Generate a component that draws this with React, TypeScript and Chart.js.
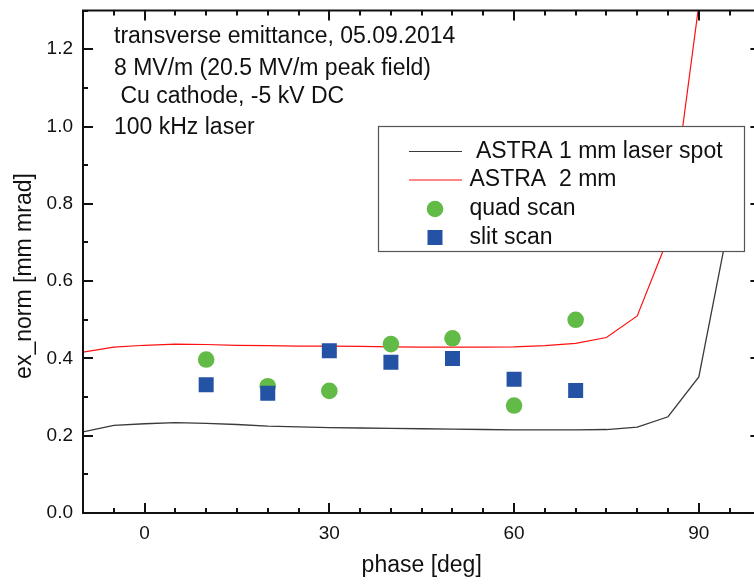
import React, { useEffect, useRef } from 'react';
import { Chart, registerables } from 'chart.js';

Chart.register(...registerables);

// ---- data ----
const phases = [-10, -5, 0, 5, 10, 15, 20, 25, 30, 35, 40, 45, 50, 55, 60, 65, 70, 75, 80, 85, 90, 95];
const astra1mm = [0.210, 0.227, 0.231, 0.234, 0.232, 0.229, 0.225, 0.223, 0.221, 0.220, 0.219, 0.218, 0.217, 0.216, 0.215, 0.215, 0.215, 0.216, 0.222, 0.249, 0.352, 0.760];
const astra2mm = [0.416, 0.429, 0.434, 0.437, 0.436, 0.434, 0.433, 0.432, 0.432, 0.431, 0.430, 0.429, 0.429, 0.429, 0.430, 0.433, 0.439, 0.454, 0.510, 0.711, 1.315];
const scanPhases = [10, 20, 30, 40, 50, 60, 70];
const quadScan = [0.397, 0.328, 0.316, 0.437, 0.452, 0.278, 0.500];
const slitScan = [0.332, 0.310, 0.420, 0.390, 0.400, 0.346, 0.317];
const xTickValues = [0, 30, 60, 90];
const yTickValues = [0, 0.2, 0.4, 0.6, 0.8, 1.0, 1.2];
const seriesLabels = [' ASTRA 1 mm laser spot', 'ASTRA  2 mm', 'quad scan', 'slit scan'];
const annotationLines = [
  'transverse emittance, 05.09.2014',
  '8 MV/m (20.5 MV/m peak field)',
  ' Cu cathode, -5 kV DC',
  '100 kHz laser',
];
const xTitle = 'phase [deg]';
const yTitle = 'ex_norm [mm mrad]';

// ---- styles ----
const FONT = '"Liberation Sans", Arial, Helvetica, sans-serif';
const TEXT = '#111111';
const BLACK_LINE = '#3a3a3a';
const RED_LINE = '#ff1010';
const GREEN = '#62bb47';
const BLUE = '#2452a4';

const framePlugin = {
  id: 'frameAndNotes',
  afterDatasetsDraw(chart: any) {
    const { ctx, chartArea: a, scales } = chart;
    const xs = scales.x;
    const ys = scales.y;
    ctx.save();

    // frame
    ctx.strokeStyle = TEXT;
    ctx.lineWidth = 2;
    ctx.beginPath();
    ctx.rect(a.left, a.top, a.right - a.left, a.bottom - a.top);
    ctx.stroke();

    const seg = (x1: number, y1: number, x2: number, y2: number) => {
      ctx.beginPath();
      ctx.moveTo(x1, y1);
      ctx.lineTo(x2, y2);
      ctx.stroke();
    };

    // x ticks (inward, top and bottom)
    for (let i = 0; i <= 22; i++) {
      const v = -10 + i * 5;
      const px = Math.round(xs.getPixelForValue(v));
      const len = xTickValues.includes(v) ? 10 : 5;
      seg(px, a.bottom, px, a.bottom - len);
      seg(px, a.top, px, a.top + len);
    }
    // y ticks (inward, left and right)
    for (let i = 0; i <= 13; i++) {
      const v = i / 10;
      const py = Math.round(ys.getPixelForValue(v));
      const len = i % 2 === 0 ? 10 : 5;
      seg(a.left, py, a.left + len, py);
      seg(a.right, py, a.right - len, py);
    }

    // annotation text
    ctx.fillStyle = TEXT;
    ctx.font = `23px ${FONT}`;
    ctx.textAlign = 'left';
    ctx.textBaseline = 'middle';
    const noteY = [37, 68.5, 97, 128];
    annotationLines.forEach((t, i) => ctx.fillText(t, 114, noteY[i]));

    // y title
    ctx.save();
    ctx.translate(25, 276);
    ctx.rotate(-Math.PI / 2);
    ctx.textAlign = 'center';
    ctx.fillText(yTitle, 0, 0);
    ctx.restore();

    // legend
    ctx.fillStyle = '#ffffff';
    ctx.fillRect(378, 126, 367, 126);
    ctx.strokeStyle = '#555555';
    ctx.lineWidth = 1.2;
    ctx.strokeRect(378.5, 126.5, 366, 125);
    const rowY = [151.5, 180, 209, 237.5];
    const ds = chart.data.datasets;
    const byLabel = (l: string) => ds.find((d: any) => d.label === l);
    seriesLabels.forEach((lab, i) => {
      const d = byLabel(lab);
      const y = rowY[i];
      if (d.showLine) {
        ctx.strokeStyle = d.borderColor;
        ctx.lineWidth = 1.2;
        seg(409, y, 462, y);
      } else if (d.pointStyle === 'circle') {
        ctx.fillStyle = d.backgroundColor;
        ctx.beginPath();
        ctx.arc(435, y, 8.3, 0, Math.PI * 2);
        ctx.fill();
      } else {
        ctx.fillStyle = d.backgroundColor;
        ctx.fillRect(435 - 7.5, y - 7.5, 15, 15);
      }
      ctx.fillStyle = TEXT;
      ctx.font = `23px ${FONT}`;
      ctx.textAlign = 'left';
      ctx.textBaseline = 'middle';
      ctx.fillText(lab, 469.5, y);
    });

    ctx.restore();
  },
};

export default function App() {
  const canvasRef = useRef<HTMLCanvasElement | null>(null);

  useEffect(() => {
    const canvas = canvasRef.current;
    if (!canvas) return;
    Chart.defaults.font.family = FONT;

    const chart = new Chart(canvas, {
      type: 'scatter',
      data: {
        datasets: [
          {
            label: seriesLabels[3],
            data: scanPhases.map((p, i) => ({ x: p, y: slitScan[i] })),
            pointStyle: 'rect',
            pointRadius: 10.6,
            backgroundColor: BLUE,
            borderWidth: 0,
            showLine: false,
            order: 0,
          },
          {
            label: seriesLabels[2],
            data: scanPhases.map((p, i) => ({ x: p, y: quadScan[i] })),
            pointStyle: 'circle',
            pointRadius: 8.3,
            backgroundColor: GREEN,
            borderWidth: 0,
            showLine: false,
            order: 1,
          },
          {
            label: seriesLabels[1],
            data: astra2mm.map((v, i) => ({ x: phases[i], y: v })),
            showLine: true,
            borderColor: RED_LINE,
            borderWidth: 1.2,
            pointRadius: 0,
            tension: 0,
            order: 2,
          },
          {
            label: seriesLabels[0],
            data: astra1mm.map((v, i) => ({ x: phases[i], y: v })),
            showLine: true,
            borderColor: BLACK_LINE,
            borderWidth: 1.3,
            pointRadius: 0,
            tension: 0,
            order: 3,
          },
        ],
      } as any,
      options: {
        responsive: false,
        animation: false,
        devicePixelRatio: 1,
        events: [],
        layout: { padding: { top: 8, right: 10, left: 0, bottom: 0 } },
        plugins: { legend: { display: false }, tooltip: { enabled: false } },
        scales: {
          x: {
            type: 'linear',
            min: -10,
            max: 100,
            grid: { display: false, drawTicks: false },
            border: { display: false },
            afterBuildTicks: (s: any) => {
              s.ticks = xTickValues.map((v) => ({ value: v }));
            },
            afterFit: (s: any) => {
              s.height = 71;
              s.paddingLeft = 0;
              s.paddingRight = 0;
            },
            ticks: {
              padding: 9,
              color: TEXT,
              font: { size: 19 },
              maxRotation: 0,
              autoSkip: false,
              callback: (v: any) => String(v),
            },
            title: {
              display: true,
              text: xTitle,
              color: TEXT,
              font: { size: 23 },
              padding: { top: 0, bottom: 5 },
            },
          },
          y: {
            type: 'linear',
            min: 0,
            max: 1.3,
            grid: { display: false, drawTicks: false },
            border: { display: false },
            afterBuildTicks: (s: any) => {
              s.ticks = yTickValues.map((v) => ({ value: v }));
            },
            afterFit: (s: any) => {
              s.width = 83;
              s.paddingTop = 0;
              s.paddingBottom = 0;
            },
            ticks: {
              padding: 10,
              color: TEXT,
              font: { size: 19 },
              autoSkip: false,
              callback: (v: any) => Number(v).toFixed(1),
            },
          },
        },
      } as any,
      plugins: [framePlugin],
    });

    return () => chart.destroy();
  }, []);

  return (
    <div
      style={{
        position: 'absolute',
        left: 0,
        top: 0,
        width: 754,
        height: 584,
        overflow: 'hidden',
        background: '#ffffff',
      }}
    >
      <canvas ref={canvasRef} width={771} height={584} style={{ display: 'block' }} />
    </div>
  );
}
